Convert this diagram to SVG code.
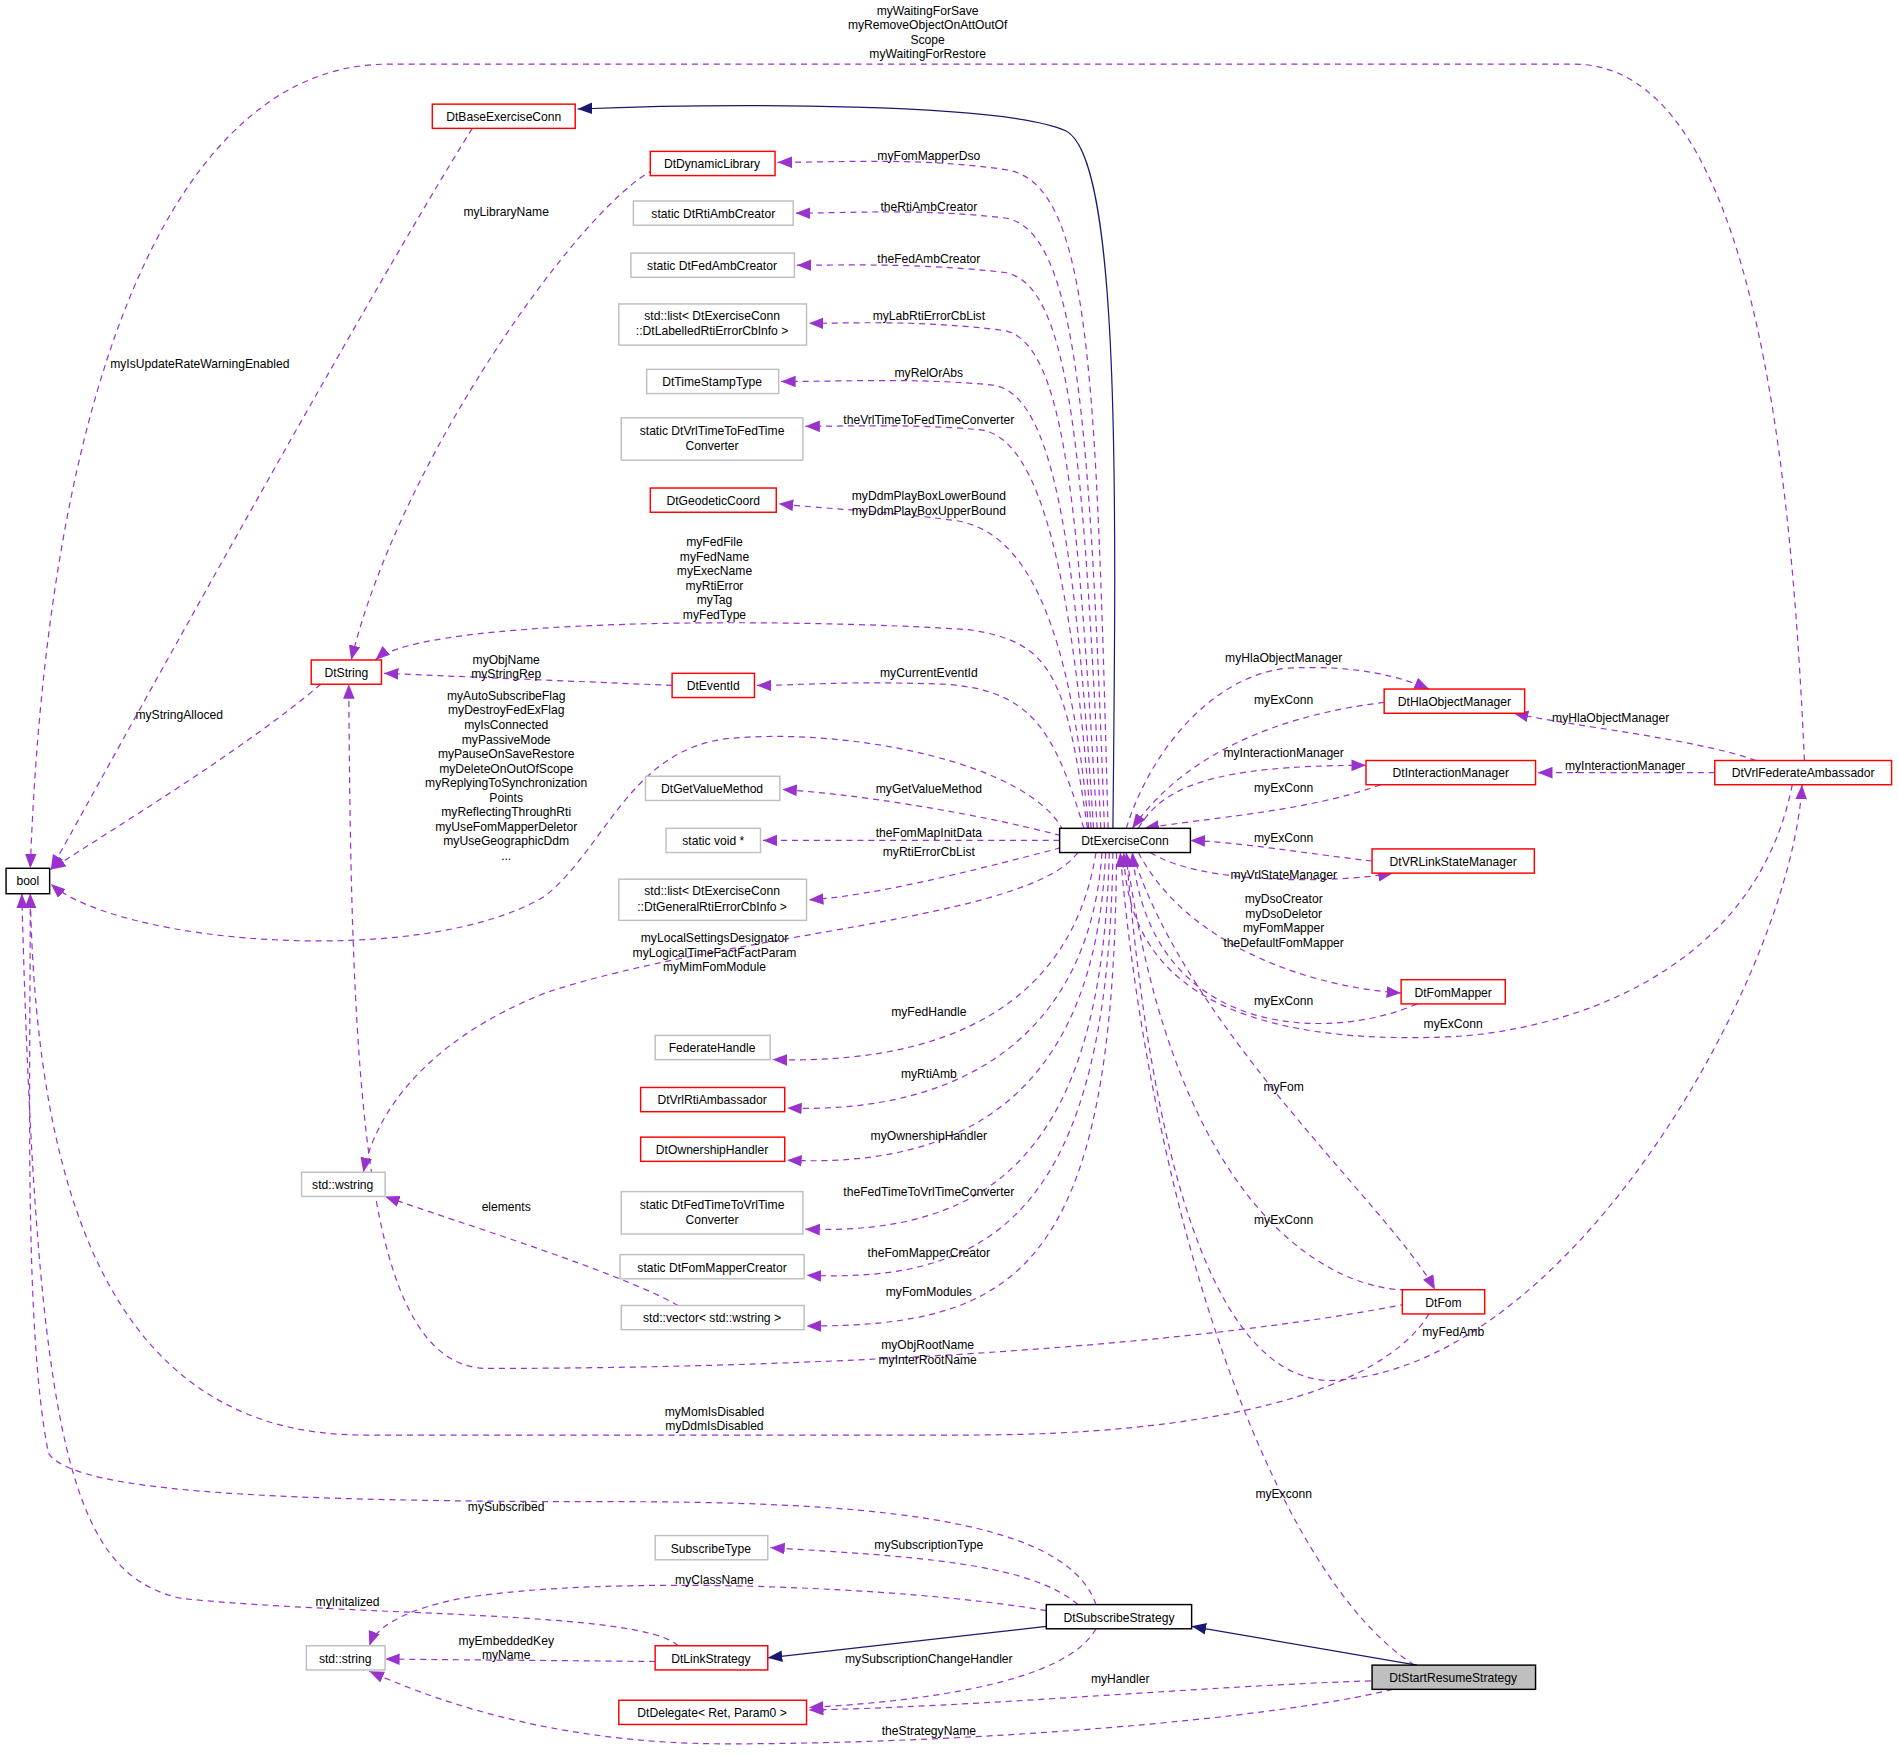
<svg xmlns="http://www.w3.org/2000/svg" width="1899" height="1756" viewBox="0 0 1899 1756">
<style>
text{font-family:"Liberation Sans",Arial,sans-serif;font-size:10px;fill:#000;text-anchor:middle}
.n rect{fill:#fff;stroke-width:1.2}
.r rect{stroke:#ff0000}
.g rect{stroke:#bfbfbf}
.b rect{stroke:#000}
.e path{fill:none;stroke:#9a32cd;stroke-dasharray:5,4;marker-end:url(#ap)}
.e path.i{stroke:#191970;stroke-dasharray:none;marker-end:url(#an)}
</style>
<defs>
<marker id="ap" markerUnits="userSpaceOnUse" markerWidth="12" markerHeight="10" refX="10" refY="4" orient="auto" viewBox="0 0 10 8"><path d="M0,0L10,4L0,8z" fill="#9a32cd"/></marker>
<marker id="an" markerUnits="userSpaceOnUse" markerWidth="12" markerHeight="10" refX="10" refY="4" orient="auto" viewBox="0 0 10 8"><path d="M0,0L10,4L0,8z" fill="#191970"/></marker>
</defs>
<rect width="1899" height="1756" fill="#fff"/>
<g transform="scale(1.211)">
<g class="e" id="edges">
<path class="i" d="M919,684 C922,400 925,130 880,108 C830,85 600,85 477,90"/>
<path d="M915,684 C905,300 900,150 830,140 C760,130 700,134 642,134"/>
<path d="M912,684 C900,350 890,190 830,180 C760,172 700,176 657,176"/>
<path d="M909,684 C895,380 885,235 830,225 C760,217 700,219 658,219"/>
<path d="M906,684 C890,420 880,285 830,273 C760,264 700,267 668,267"/>
<path d="M903,684 C888,450 870,325 820,318 C760,312 700,315 645,315"/>
<path d="M901,684 C886,480 860,362 810,355 C760,350 700,352 665,352"/>
<path d="M899,684 C884,520 850,440 790,430 C730,422 680,420 643,416"/>
<path d="M898,684 C880,560 870,530 800,520 C650,510 350,510 310,545"/>
<path d="M555,566 L317,556"/>
<path d="M895,684 C870,600 850,570 780,565 C700,562 660,566 625,566"/>
<path d="M878,686 C850,630 700,600 600,610 C520,620 500,700 450,740 C350,800 100,780 42,730"/>
<path d="M876,690 C800,670 700,655 646,652"/>
<path d="M875,694 L630,694"/>
<path d="M876,700 C800,720 720,740 668,743"/>
<path d="M890,704 C850,760 600,770 450,820 C350,860 310,920 300,968"/>
<path d="M905,704 C890,800 820,880 638,875"/>
<path d="M910,704 C900,850 800,920 650,915"/>
<path d="M913,704 C905,900 800,965 650,958"/>
<path d="M916,704 C910,950 820,1020 665,1015"/>
<path d="M919,704 C915,1000 820,1060 666,1053"/>
<path d="M922,704 C920,1050 840,1095 666,1095"/>
<path d="M560,1078 C510,1050 380,1010 318,988"/>
<path d="M390,106 C300,250 80,650 42,718"/>
<path d="M540,140 C480,170 330,380 290,545"/>
<path d="M265,565 C200,620 100,680 42,718"/>
<path d="M1490,628 C1480,400 1450,53 1300,53 L320,53 C150,53 40,300 25,717"/>
<path d="M930,684 C950,620 1000,560 1060,552 C1120,548 1160,560 1180,569"/>
<path d="M1143,580 C1060,590 980,620 935,684"/>
<path d="M940,684 C960,650 1000,632 1128,632"/>
<path d="M1140,648 C1080,670 1000,675 945,684"/>
<path d="M1133,711 C1080,705 1020,695 983,694"/>
<path d="M950,704 C990,730 1100,730 1150,721"/>
<path d="M940,704 C980,780 1080,815 1157,820"/>
<path d="M1170,829 C1100,860 950,860 935,704"/>
<path d="M1480,648 C1450,800 1300,850 1200,856 C1000,865 930,800 928,704"/>
<path d="M935,704 C980,850 1150,1000 1185,1065"/>
<path d="M1170,1065 C1100,1070 970,1000 930,704"/>
<path d="M930,704 C950,950 1000,1140 1100,1140 C1300,1130 1480,800 1488,648"/>
<path d="M1170,1075 C1000,1110 700,1130 400,1130 C300,1125 290,900 288,565"/>
<path d="M1180,1085 C1140,1150 1000,1185 800,1185 L300,1185 C100,1185 30,1000 25,738"/>
<path d="M1168,1375 C1050,1300 950,1000 925,704"/>
<path class="i" d="M1170,1375 L984,1343"/>
<path class="i" d="M864,1343 L634,1369"/>
<path d="M905,1325 C880,1250 700,1240 500,1240 C200,1240 60,1230 40,1200 C20,1100 25,900 25,738"/>
<path d="M890,1325 C850,1290 750,1285 636,1278"/>
<path d="M864,1330 C750,1310 500,1300 380,1320 C330,1330 310,1345 305,1359"/>
<path d="M560,1359 C530,1330 300,1335 150,1320 C60,1300 30,1200 18,738"/>
<path d="M541,1372 L318,1370"/>
<path d="M905,1345 C880,1390 760,1405 668,1410"/>
<path d="M1132,1388 C1000,1392 800,1410 668,1412"/>
<path d="M1150,1395 C1050,1420 800,1440 600,1440 C450,1440 350,1400 305,1380"/>
<path d="M1450,628 C1400,610 1300,600 1250,589"/>
<path d="M1416,638 L1270,638"/>
</g>
<g id="labels">
<text x="766" y="12">myWaitingForSave</text><text x="766" y="24">myRemoveObjectOnAttOutOf</text><text x="766" y="36">Scope</text><text x="766" y="48">myWaitingForRestore</text>
<text x="767" y="132">myFomMapperDso</text>
<text x="767" y="174">theRtiAmbCreator</text>
<text x="767" y="217">theFedAmbCreator</text>
<text x="767" y="264">myLabRtiErrorCbList</text>
<text x="767" y="311">myRelOrAbs</text>
<text x="767" y="350">theVrlTimeToFedTimeConverter</text>
<text x="767" y="413">myDdmPlayBoxLowerBound</text><text x="767" y="425">myDdmPlayBoxUpperBound</text>
<text x="590" y="451">myFedFile</text><text x="590" y="463">myFedName</text><text x="590" y="475">myExecName</text><text x="590" y="487">myRtiError</text><text x="590" y="499">myTag</text><text x="590" y="511">myFedType</text>
<text x="418" y="548">myObjName</text><text x="418" y="560">myStringRep</text>
<text x="767" y="559">myCurrentEventId</text>
<text x="418" y="578">myAutoSubscribeFlag</text><text x="418" y="590">myDestroyFedExFlag</text><text x="418" y="602">myIsConnected</text><text x="418" y="614">myPassiveMode</text><text x="418" y="626">myPauseOnSaveRestore</text><text x="418" y="638">myDeleteOnOutOfScope</text><text x="418" y="650">myReplyingToSynchronization</text><text x="418" y="662">Points</text><text x="418" y="674">myReflectingThroughRti</text><text x="418" y="686">myUseFomMapperDeletor</text><text x="418" y="698">myUseGeographicDdm</text><text x="418" y="710">...</text>
<text x="767" y="655">myGetValueMethod</text>
<text x="767" y="691">theFomMapInitData</text>
<text x="767" y="707">myRtiErrorCbList</text>
<text x="590" y="778">myLocalSettingsDesignator</text><text x="590" y="790">myLogicalTimeFactFactParam</text><text x="590" y="802">myMimFomModule</text>
<text x="767" y="839">myFedHandle</text>
<text x="767" y="890">myRtiAmb</text>
<text x="767" y="941">myOwnershipHandler</text>
<text x="767" y="988">theFedTimeToVrlTimeConverter</text>
<text x="767" y="1038">theFomMapperCreator</text>
<text x="767" y="1070">myFomModules</text>
<text x="418" y="1000">elements</text>
<text x="165" y="304">myIsUpdateRateWarningEnabled</text>
<text x="418" y="178">myLibraryName</text>
<text x="148" y="594">myStringAlloced</text>
<text x="1060" y="547">myHlaObjectManager</text>
<text x="1060" y="581">myExConn</text>
<text x="1060" y="625">myInteractionManager</text>
<text x="1060" y="654">myExConn</text>
<text x="1060" y="695">myExConn</text>
<text x="1060" y="726">myVrlStateManager</text>
<text x="1060" y="746">myDsoCreator</text><text x="1060" y="758">myDsoDeletor</text><text x="1060" y="770">myFomMapper</text><text x="1060" y="782">theDefaultFomMapper</text>
<text x="1060" y="830">myExConn</text>
<text x="1200" y="849">myExConn</text>
<text x="1060" y="901">myFom</text>
<text x="1060" y="1011">myExConn</text>
<text x="1200" y="1103">myFedAmb</text>
<text x="766" y="1114">myObjRootName</text><text x="766" y="1126">myInterRootName</text>
<text x="590" y="1169">myMomIsDisabled</text><text x="590" y="1181">myDdmIsDisabled</text>
<text x="1060" y="1237">myExconn</text>
<text x="418" y="1248">mySubscribed</text>
<text x="767" y="1279">mySubscriptionType</text>
<text x="590" y="1308">myClassName</text>
<text x="287" y="1326">myInitalized</text>
<text x="418" y="1358">myEmbeddedKey</text><text x="418" y="1370">myName</text>
<text x="767" y="1373">mySubscriptionChangeHandler</text>
<text x="925" y="1390">myHandler</text>
<text x="767" y="1433">theStrategyName</text>
<text x="1330" y="596">myHlaObjectManager</text>
<text x="1342" y="636">myInteractionManager</text>
</g>
<g class="n b" id="bool"><rect x="5" y="717" width="36" height="21"/><text x="23" y="731">bool</text></g>
<g class="n r" id="DtBaseExerciseConn"><rect x="357" y="86" width="118" height="20"/><text x="416" y="100">DtBaseExerciseConn</text></g>
<g class="n r" id="DtDynamicLibrary"><rect x="537" y="125" width="103" height="20"/><text x="588" y="139">DtDynamicLibrary</text></g>
<g class="n g" id="DtRtiAmbCreator"><rect x="523" y="166" width="132" height="20"/><text x="589" y="180">static DtRtiAmbCreator</text></g>
<g class="n g" id="DtFedAmbCreator"><rect x="521" y="209" width="135" height="20"/><text x="588" y="223">static DtFedAmbCreator</text></g>
<g class="n g" id="LabList"><rect x="511" y="251" width="155" height="34"/><text x="588" y="264">std::list&lt; DtExerciseConn</text><text x="588" y="277">::DtLabelledRtiErrorCbInfo &gt;</text></g>
<g class="n g" id="DtTimeStampType"><rect x="534" y="305" width="109" height="20"/><text x="588" y="319">DtTimeStampType</text></g>
<g class="n g" id="VrlToFed"><rect x="513" y="345" width="150" height="35"/><text x="588" y="359">static DtVrlTimeToFedTime</text><text x="588" y="372">Converter</text></g>
<g class="n r" id="DtGeodeticCoord"><rect x="537" y="403" width="104" height="20"/><text x="589" y="417">DtGeodeticCoord</text></g>
<g class="n r" id="DtString"><rect x="257" y="545" width="58" height="20"/><text x="286" y="559">DtString</text></g>
<g class="n r" id="DtEventId"><rect x="555" y="556" width="68" height="20"/><text x="589" y="570">DtEventId</text></g>
<g class="n g" id="DtGetValueMethod"><rect x="533" y="641" width="111" height="20"/><text x="588" y="655">DtGetValueMethod</text></g>
<g class="n g" id="voidp"><rect x="550" y="684" width="78" height="20"/><text x="589" y="698">static void *</text></g>
<g class="n g" id="GenList"><rect x="511" y="726" width="155" height="34"/><text x="588" y="739">std::list&lt; DtExerciseConn</text><text x="588" y="752">::DtGeneralRtiErrorCbInfo &gt;</text></g>
<g class="n g" id="FederateHandle"><rect x="541" y="855" width="95" height="20"/><text x="588" y="869">FederateHandle</text></g>
<g class="n r" id="DtVrlRtiAmbassador"><rect x="529" y="898" width="119" height="20"/><text x="588" y="912">DtVrlRtiAmbassador</text></g>
<g class="n r" id="DtOwnershipHandler"><rect x="529" y="939" width="119" height="20"/><text x="588" y="953">DtOwnershipHandler</text></g>
<g class="n g" id="FedToVrl"><rect x="513" y="984" width="150" height="35"/><text x="588" y="998">static DtFedTimeToVrlTime</text><text x="588" y="1011">Converter</text></g>
<g class="n g" id="FomMapperCreator"><rect x="512" y="1036" width="152" height="20"/><text x="588" y="1050">static DtFomMapperCreator</text></g>
<g class="n g" id="vector"><rect x="513" y="1078" width="151" height="20"/><text x="588" y="1092">std::vector&lt; std::wstring &gt;</text></g>
<g class="n g" id="wstring"><rect x="249" y="968" width="69" height="20"/><text x="283" y="982">std::wstring</text></g>
<g class="n b" id="DtExerciseConn"><rect x="875" y="684" width="108" height="20"/><text x="929" y="698">DtExerciseConn</text></g>
<g class="n r" id="DtHlaObjectManager"><rect x="1143" y="569" width="116" height="20"/><text x="1201" y="583">DtHlaObjectManager</text></g>
<g class="n r" id="DtInteractionManager"><rect x="1128" y="628" width="140" height="20"/><text x="1198" y="642">DtInteractionManager</text></g>
<g class="n r" id="DtVRLinkStateManager"><rect x="1133" y="701" width="134" height="20"/><text x="1200" y="715">DtVRLinkStateManager</text></g>
<g class="n r" id="DtFomMapper"><rect x="1157" y="809" width="86" height="20"/><text x="1200" y="823">DtFomMapper</text></g>
<g class="n r" id="DtFom"><rect x="1158" y="1065" width="68" height="20"/><text x="1192" y="1079">DtFom</text></g>
<g class="n r" id="DtVrlFederateAmbassador"><rect x="1416" y="628" width="146" height="20"/><text x="1489" y="642">DtVrlFederateAmbassador</text></g>
<g class="n g" id="SubscribeType"><rect x="541" y="1268" width="93" height="20"/><text x="587" y="1282">SubscribeType</text></g>
<g class="n b" id="DtSubscribeStrategy"><rect x="864" y="1325" width="120" height="20"/><text x="924" y="1339">DtSubscribeStrategy</text></g>
<g class="n g" id="string"><rect x="253" y="1359" width="65" height="20"/><text x="285" y="1373">std::string</text></g>
<g class="n r" id="DtLinkStrategy"><rect x="541" y="1359" width="93" height="20"/><text x="587" y="1373">DtLinkStrategy</text></g>
<g class="n b" id="DtStartResumeStrategy"><rect x="1133" y="1375" width="135" height="20" style="fill:#bfbfbf"/><text x="1200" y="1389">DtStartResumeStrategy</text></g>
<g class="n r" id="DtDelegate"><rect x="511" y="1404" width="155" height="20"/><text x="588" y="1418">DtDelegate&lt; Ret, Param0 &gt;</text></g>
</g>
</svg>
